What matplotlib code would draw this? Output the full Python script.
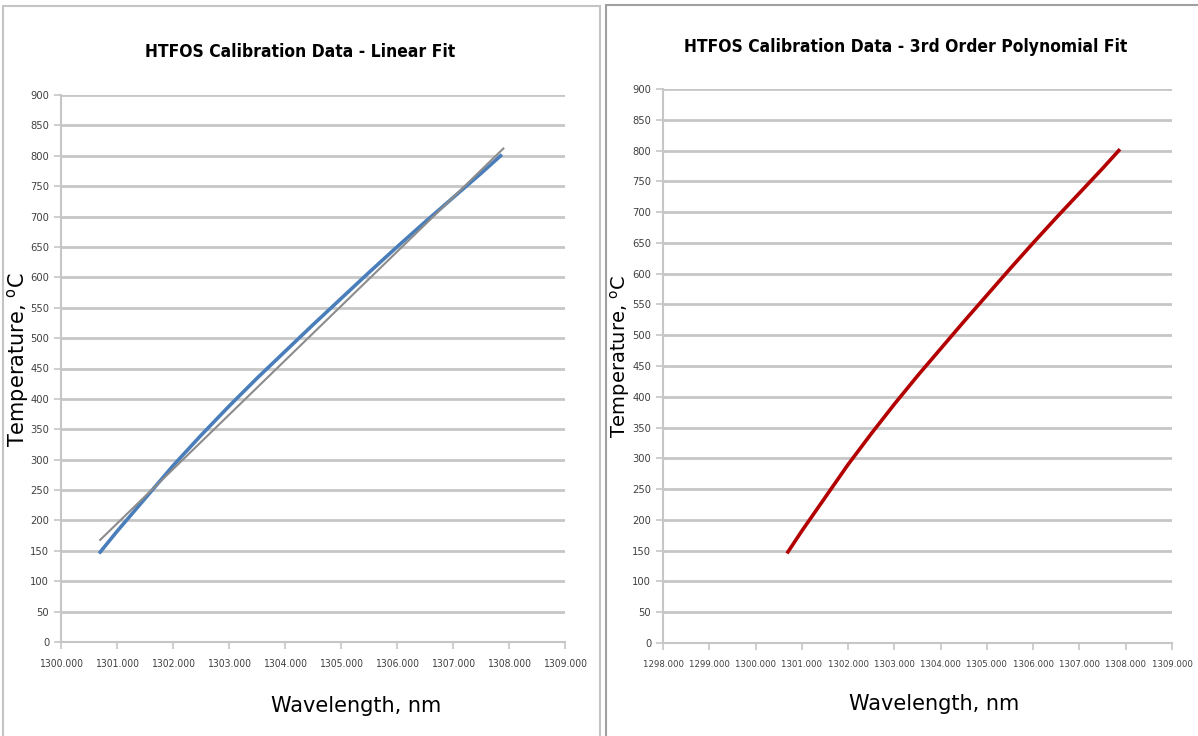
import matplotlib.pyplot as plt
from matplotlib.patches import Rectangle

wavelength = [1300.70, 1301.00, 1301.50, 1302.00, 1302.50, 1303.00, 1303.50, 1304.00,
              1304.50, 1305.00, 1305.50, 1306.00, 1306.50, 1307.00, 1307.50, 1307.85]
temperature = [148, 182, 236, 290, 340, 388, 434, 478,
               522, 565, 608, 650, 691, 731, 771, 800]

# linear trendline end points
fit_wl = [1300.70, 1307.90]
fit_temp = [168, 812]

yticks = list(range(0, 901, 50))
xticks_left = list(range(1300, 1310))
xticks_right = list(range(1298, 1310))

GRID = '#c6c6c6'
W, H = 1198, 736

fig = plt.figure(figsize=(W / 100, H / 100), dpi=100)

# panel frames
fig.patches.append(Rectangle((3 / W, -0.01), 597 / W, 1 - 6 / H + 0.01,
                             transform=fig.transFigure, fill=False, ec='#c4c4c4', lw=1.5))
fig.patches.append(Rectangle((606 / W, -0.01), 600 / W, 1 - 5 / H + 0.01,
                             transform=fig.transFigure, fill=False, ec='#a0a0a0', lw=1.5))


def style(ax, xticks, xsize):
    ax.set_ylim(0, 900)
    ax.set_xlim(xticks[0], xticks[-1])
    ax.set_yticks(yticks)
    ax.set_xticks(xticks)
    ax.set_xticklabels(['%.3f' % t for t in xticks], fontsize=xsize, fontstretch='condensed')
    ax.set_yticklabels([str(t) for t in yticks], fontsize=8, fontstretch='condensed')
    ax.grid(axis='y', color=GRID, lw=2)
    ax.set_axisbelow(True)
    for s in ['top', 'right']:
        ax.spines[s].set_visible(False)
    for s in ['left', 'bottom']:
        ax.spines[s].set_color(GRID)
        ax.spines[s].set_linewidth(1.5)
    ax.tick_params(axis='both', colors=GRID, length=5, width=1.2, labelcolor='#404040')
    ax.tick_params(axis='x', pad=7)


# left panel: linear fit
ax1 = fig.add_axes([61 / W, 1 - 642 / H, 504 / W, 547 / H])
style(ax1, xticks_left, 7.5)
ax1.plot(wavelength, temperature, color='#4a7ebb', lw=2.6)
ax1.plot(fit_wl, fit_temp, color='#8c8c8c', lw=1.5)
fig.text(356 / W, 1 - 706 / H, 'Wavelength, nm', fontsize=15, ha='center', va='center')
fig.text(18 / W, 1 - 360 / H, 'Temperature, $^{\\mathrm{o}}$C', fontsize=15,
         rotation=90, ha='center', va='center')
fig.text(300 / W, 1 - 52 / H, 'HTFOS Calibration Data - Linear Fit',
         fontsize=12.5, fontweight='bold', fontstretch='condensed', ha='center', va='center')

# right panel: 3rd order polynomial fit
ax2 = fig.add_axes([663 / W, 1 - 643 / H, 509 / W, 554 / H])
style(ax2, xticks_right, 6.8)
ax2.plot(wavelength, temperature, color='#b30000', lw=2.6)
fig.text(934 / W, 1 - 704 / H, 'Wavelength, nm', fontsize=15, ha='center', va='center')
fig.text(620 / W, 1 - 356 / H, 'Temperature, $^{\\mathrm{o}}$C', fontsize=14,
         rotation=90, ha='center', va='center')
fig.text(906 / W, 1 - 47 / H, 'HTFOS Calibration Data - 3rd Order Polynomial Fit',
         fontsize=12.5, fontweight='bold', fontstretch='condensed', ha='center', va='center')

fig.savefig('out.png', dpi=100)
